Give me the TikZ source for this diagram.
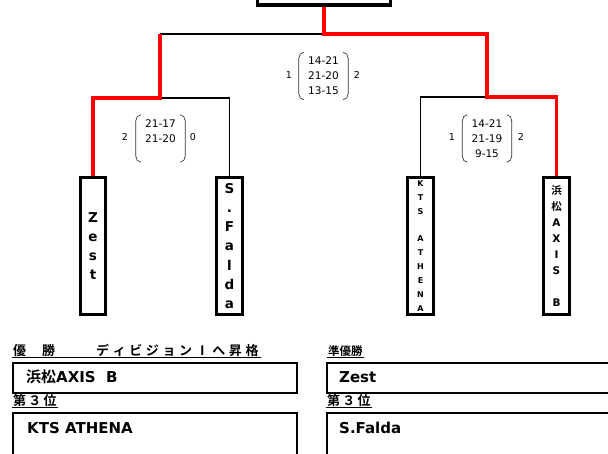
\documentclass[tikz,border=0pt]{standalone}
\usepackage{fontspec}
\setmainfont{DejaVu Sans}
\newfontfamily\jp{Noto Sans CJK JP}[BoldFont=* Bold]
\newcommand\sqc[1]{\makebox[16.6pt][l]{#1}}
\newcommand\brk[1]{%
  \draw[brkline] ([xshift=5pt]#1.north west) to[out=180,in=90] ([yshift=-6pt]#1.north west)
     -- ([yshift=6pt]#1.south west) to[out=-90,in=180] ([xshift=5pt]#1.south west);
  \draw[brkline] ([xshift=-5pt]#1.north east) to[out=0,in=90] ([yshift=-6pt]#1.north east)
     -- ([yshift=6pt]#1.south east) to[out=-90,in=0] ([xshift=-5pt]#1.south east);}
\tikzset{
  wire/.style={line width=1.6pt, black},
  win/.style={line width=3.2pt, red},
  team/.style={draw, line width=2.6pt, minimum width=25.5pt, minimum height=137.5pt, inner sep=0pt, align=center},
  score/.style={minimum width=49pt, minimum height=47pt, inner sep=0pt, align=center, font=\fontsize{10.5}{15}\selectfont},
  side/.style={inner sep=0pt, font=\fontsize{9.5}{11}\selectfont},
  brkline/.style={line width=0.7pt, black!80},
  resbox/.style={draw, line width=2pt},
  restext/.style={anchor=west, inner sep=0pt, font=\fontsize{15}{17}\selectfont\bfseries},
  head/.style={anchor=base west, inner sep=0pt, font=\jp\bfseries\fontsize{13}{15}\selectfont},
  uline/.style={line width=1.1pt},
}
\begin{document}
\begin{tikzpicture}[x=1pt,y=-1pt]
\useasboundingbox (0,0) rectangle (608,453);
\clip (0,0) rectangle (608,453);

% champion box (cut at the top)
\node[draw, line width=3.3pt, minimum width=133pt, minimum height=30pt, inner sep=0pt] (champ) at (324,-10) {};

% team boxes
\node[team, font=\bfseries\fontsize{13.5}{19}\selectfont] (zest) at (93,246) {Z\\e\\s\\t};
\node[team, font=\bfseries\fontsize{13.5}{19.2}\selectfont] (falda) at (229.5,246) {S\\.\\F\\a\\l\\d\\a};
\node[team, font=\bfseries\fontsize{8}{13.9}\selectfont] (kts) at (420.5,246) {K\\T\\S\\~\\A\\T\\H\\E\\N\\A};
\node[team, font=\bfseries\fontsize{10.5}{16.1}\selectfont] (axis) at (556.5,246) {{\jp\bfseries 浜}\\{\jp\bfseries 松}\\A\\X\\I\\S\\~\\B};

% junctions
\coordinate (jF) at (324,34);
\coordinate (jL) at (160,34);
\coordinate (jR) at (487,34);
\coordinate (jLL) at (160,98);
\coordinate (jRR) at (487,97);

% connectors
\draw[wire] (jF) -- (jL);
\draw[wire] (jLL) -| (falda.north);
\draw[wire] (jRR) -| (kts.north);
\draw[win] (champ.south) -- (jF) -- (jR) -- (jRR) -| (axis.north);
\draw[win] (jL) -- (jLL) -| (zest.north);

% scores
\node[score] (sF) at (323.5,76) {14-21\\21-20\\13-15};
\brk{sF}
\node[side] (sF1) at (289,75) {1};
\node[side] (sF2) at (357,75) {2};

\node[score] (sL) at (160.5,138.5) {21-17\\21-20\\~};
\brk{sL}
\node[side] (sL1) at (125,137) {2};
\node[side] (sL2) at (193,137) {0};

\node[score] (sR) at (487,138.5) {14-21\\21-19\\9-15};
\brk{sR}
\node[side] (sR1) at (452,137) {1};
\node[side] (sR2) at (521,137) {2};

% results
\node[head] (h1) at (13,355) {\makebox[29pt][l]{優}\makebox[54pt][l]{勝}\sqc{デ}\sqc{ィ}\sqc{ビ}\sqc{ジ}\sqc{ョ}\sqc{ン}\sqc{Ⅰ}\sqc{へ}\sqc{昇}\makebox[13pt][l]{格}};
\draw[uline] ([xshift=-1pt,yshift=-2.5pt]h1.base west) -- ([xshift=2pt,yshift=-2.5pt]h1.base east);
\node[head, font=\jp\bfseries\fontsize{11.5}{13}\selectfont] (h2) at (328,355) {準優勝};
\draw[uline] ([xshift=-1pt,yshift=-2.5pt]h2.base west) -- ([xshift=1pt,yshift=-2.5pt]h2.base east);

\node[resbox, minimum width=284pt, minimum height=30pt, inner sep=0pt, anchor=north west] (b1) at (12,362) {};
\node[restext] (t1) at (26,377) {{\jp\bfseries 浜松}AXIS\ \ B};
\node[resbox, minimum width=300pt, minimum height=30pt, inner sep=0pt, anchor=north west] (b2) at (326,362) {};
\node[restext] (t2) at (339,377) {Zest};

\node[head] (h3) at (13,405) {第\,３\,位};
\draw[uline] ([xshift=-1pt,yshift=-2.5pt]h3.base west) -- ([xshift=1pt,yshift=-2.5pt]h3.base east);
\node[head] (h4) at (327,405) {第\,３\,位};
\draw[uline] ([xshift=-1pt,yshift=-2.5pt]h4.base west) -- ([xshift=1pt,yshift=-2.5pt]h4.base east);

\node[resbox, minimum width=284pt, minimum height=60pt, inner sep=0pt, anchor=north west] (b3) at (12,412) {};
\node[restext] (t3) at (27,428) {KTS ATHENA};
\node[resbox, minimum width=300pt, minimum height=60pt, inner sep=0pt, anchor=north west] (b4) at (326,412) {};
\node[restext] (t4) at (339,428) {S.Falda};
\end{tikzpicture}
\end{document}
